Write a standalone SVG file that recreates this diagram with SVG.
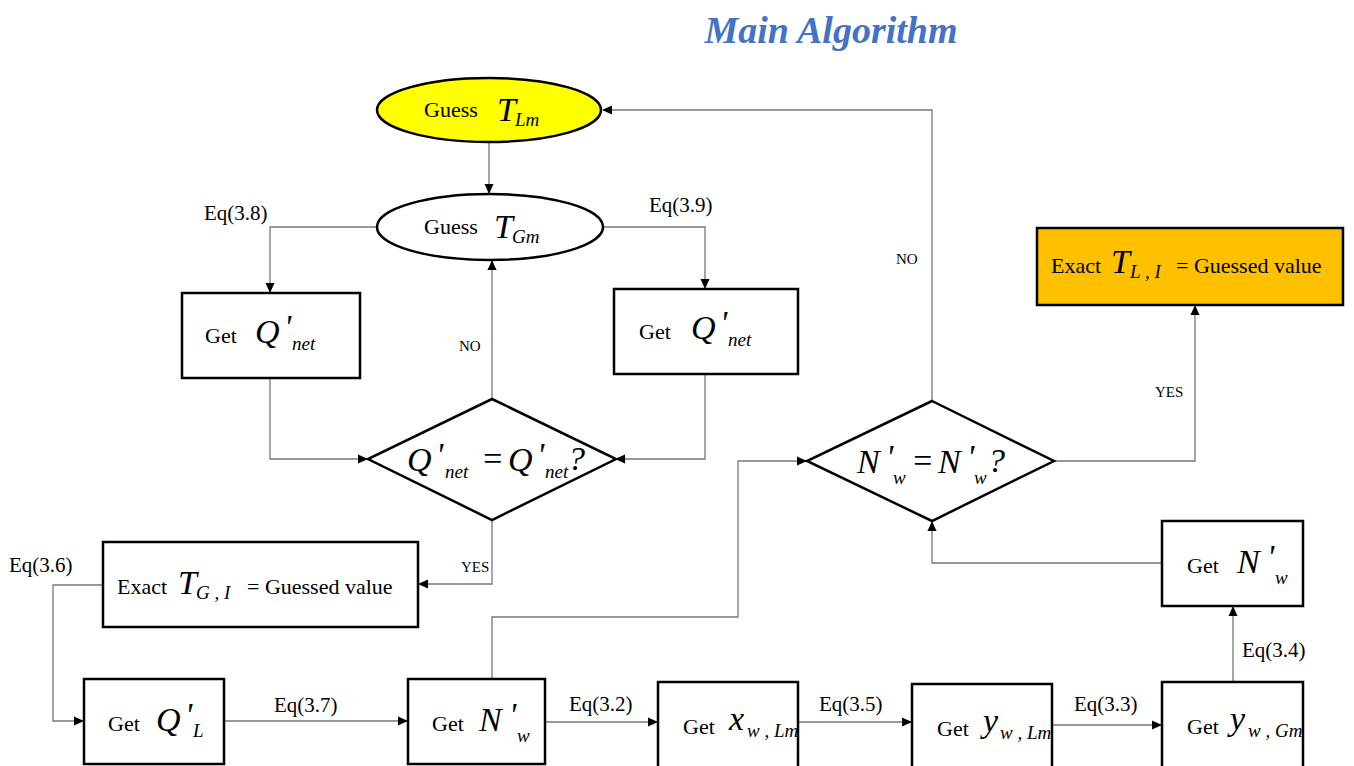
<svg xmlns="http://www.w3.org/2000/svg" width="1354" height="766" viewBox="0 0 1354 766">
<defs>
<marker id="ah" markerWidth="10" markerHeight="10" refX="9" refY="5" orient="auto" markerUnits="userSpaceOnUse">
<path d="M0,0.5 L10,5 L0,9.5 Z" fill="#000"/>
</marker>
<style>
text{font-family:"Liberation Serif","Times New Roman","DejaVu Serif",serif}
.shape{fill:#fff;stroke:#000;stroke-width:2.5}
.conn{fill:none;stroke:#777;stroke-width:1.3;marker-end:url(#ah)}
.t{font-size:22px;fill:#000}
.m{font-style:italic;font-size:34px;fill:#000}
.s{font-style:italic;font-size:19px;fill:#000}
.lab{font-size:21px;fill:#000}
.small{font-size:15px;fill:#000}
</style>
</defs>
<rect width="1354" height="766" fill="#fff"/>
<text x="831" y="43" text-anchor="middle" font-weight="bold" font-style="italic" font-size="38" fill="#4472C4">Main Algorithm</text>

<g id="connectors">
<path class="conn" d="M489,142 L489,193"/>
<path class="conn" d="M377,227 L270,227 L270,292"/>
<path class="conn" d="M603,227 L705,227 L705,288"/>
<path class="conn" d="M270,378 L270,459 L367,459"/>
<path class="conn" d="M705,374 L705,459 L616,459"/>
<path class="conn" d="M492,399 L492,261"/>
<path class="conn" d="M492,520 L492,584 L419,584"/>
<path class="conn" d="M103,585 L53,585 L53,721 L83,721"/>
<path class="conn" d="M224,721 L407,721"/>
<path class="conn" d="M492,679 L492,617 L738,617 L738,461 L806,461"/>
<path class="conn" d="M545,722 L657,722"/>
<path class="conn" d="M798,722 L911,722"/>
<path class="conn" d="M1052,725 L1161,725"/>
<path class="conn" d="M1233,682 L1233,607"/>
<path class="conn" d="M1162,563 L932,563 L932,522"/>
<path class="conn" d="M1054,461 L1195,461 L1195,306"/>
<path class="conn" d="M932,401 L932,110 L603,110"/>
<text class="lab" x="204" y="220">Eq(3.8)</text>
<text class="lab" x="649" y="212">Eq(3.9)</text>
<text class="small" x="459" y="351">NO</text>
<text class="small" x="461" y="572">YES</text>
<text class="lab" x="9" y="572">Eq(3.6)</text>
<text class="lab" x="274" y="712">Eq(3.7)</text>
<text class="lab" x="569" y="711">Eq(3.2)</text>
<text class="lab" x="819" y="711">Eq(3.5)</text>
<text class="lab" x="1074" y="711">Eq(3.3)</text>
<text class="lab" x="1242" y="657">Eq(3.4)</text>
<text class="small" x="896" y="264">NO</text>
<text class="small" x="1155" y="397">YES</text>
</g>

<g id="guessTLm">
<ellipse cx="489" cy="110" rx="112" ry="32" fill="#FFFF00" stroke="#000" stroke-width="2.5"/>
<text class="t" x="424" y="117">Guess</text>
<text class="m" x="497" y="121">T</text><text class="s" x="515" y="126">Lm</text>
</g>

<g id="guessTGm">
<ellipse class="shape" cx="490" cy="227" rx="113" ry="33"/>
<text class="t" x="424" y="234">Guess</text>
<text class="m" x="494" y="238">T</text><text class="s" x="512" y="243">Gm</text>
</g>

<g id="getQnetL">
<rect class="shape" x="182" y="293" width="178" height="85"/>
<text class="t" x="205" y="343">Get</text>
<text class="m" x="255" y="343">Q</text><text class="m" x="284" y="338" font-size="28" font-style="normal">'</text><text class="s" x="292" y="350">net</text>
</g>

<g id="getQnetR">
<rect class="shape" x="614" y="289" width="184" height="85"/>
<text class="t" x="639" y="339">Get</text>
<text class="m" x="691" y="339">Q</text><text class="m" x="720" y="334" font-size="28" font-style="normal">'</text><text class="s" x="728" y="346">net</text>
</g>

<g id="diamondQ">
<polygon class="shape" points="492,399 616,459 492,520 368,459"/>
<text class="m" x="407" y="471">Q</text><text class="m" x="436" y="466" font-size="28" font-style="normal">'</text><text class="s" x="445" y="478">net</text>
<text class="m" x="481" y="470" font-style="normal">=</text>
<text class="m" x="508" y="471">Q</text><text class="m" x="537" y="466" font-size="28" font-style="normal">'</text><text class="s" x="545" y="478">net</text>
<text class="m" x="568" y="470" font-style="normal">?</text>
</g>

<g id="diamondN">
<polygon class="shape" points="932,401 1054,461 932,521 807,461"/>
<text class="m" x="857" y="473">N</text><text class="m" x="886" y="468" font-size="28" font-style="normal">'</text><text class="s" x="893" y="484">w</text>
<text class="m" x="911" y="472" font-style="normal">=</text>
<text class="m" x="938" y="473">N</text><text class="m" x="967" y="468" font-size="28" font-style="normal">'</text><text class="s" x="974" y="484">w</text>
<text class="m" x="988" y="472" font-style="normal">?</text>
</g>

<g id="exactTL">
<rect x="1037" y="228" width="306" height="77" fill="#FFC000" stroke="#000" stroke-width="2.5"/>
<text class="t" x="1051" y="273">Exact</text>
<text class="m" x="1111" y="273">T</text><text class="s" x="1130" y="278">L , I</text>
<text class="t" x="1176" y="273">= Guessed  value</text>
</g>

<g id="exactTG">
<rect class="shape" x="103" y="542" width="315" height="85"/>
<text class="t" x="117" y="594">Exact</text>
<text class="m" x="178" y="594">T</text><text class="s" x="196" y="599">G , I</text>
<text class="t" x="247" y="594">= Guessed  value</text>
</g>

<g id="getQL">
<rect class="shape" x="84" y="679" width="140" height="85"/>
<text class="t" x="108" y="731">Get</text>
<text class="m" x="156" y="731">Q</text><text class="m" x="185" y="726" font-size="28" font-style="normal">'</text><text class="s" x="193" y="737">L</text>
</g>

<g id="getNw1">
<rect class="shape" x="408" y="679" width="137" height="85"/>
<text class="t" x="432" y="731">Get</text>
<text class="m" x="479" y="731">N</text><text class="m" x="509" y="726" font-size="28" font-style="normal">'</text><text class="s" x="517" y="742">w</text>
</g>

<g id="getxw">
<rect class="shape" x="658" y="682" width="140" height="90"/>
<text class="t" x="683" y="734">Get</text>
<text class="m" x="729" y="730">x</text><text class="s" x="747" y="737">w , Lm</text>
</g>

<g id="getywLm">
<rect class="shape" x="912" y="684" width="140" height="90"/>
<text class="t" x="937" y="736">Get</text>
<text class="m" x="983" y="732">y</text><text class="s" x="1000" y="739">w , Lm</text>
</g>

<g id="getywGm">
<rect class="shape" x="1162" y="682" width="141" height="90"/>
<text class="t" x="1187" y="734">Get</text>
<text class="m" x="1230" y="730">y</text><text class="s" x="1248" y="737">w , Gm</text>
</g>

<g id="getNw2">
<rect class="shape" x="1162" y="521" width="141" height="85"/>
<text class="t" x="1187" y="573">Get</text>
<text class="m" x="1237" y="573">N</text><text class="m" x="1267" y="568" font-size="28" font-style="normal">'</text><text class="s" x="1275" y="584">w</text>
</g>
</svg>
